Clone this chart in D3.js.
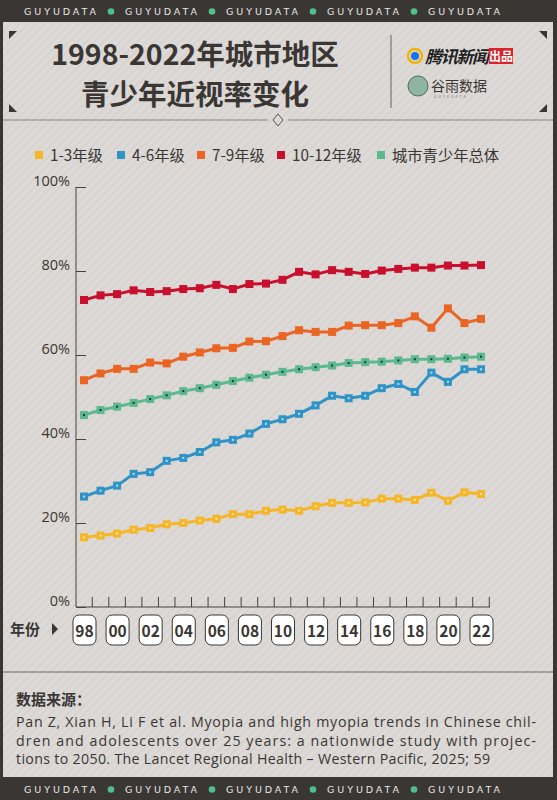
<!DOCTYPE html>
<html><head><meta charset="utf-8">
<script src="https://cdn.jsdelivr.net/npm/d3@7"></script>
<style>body{margin:0;background:#3a3634;} svg{display:block;font-family:"Noto Sans CJK SC","Noto Sans",sans-serif;}</style>
</head><body>
<svg id="chart" width="557" height="800"></svg>
<script>
const years = d3.range(1998, 2023)
const yearLabels = ["98","00","02","04","06","08","10","12","14","16","18","20","22"]
const yTicks = [0, 20, 40, 60, 80, 100]

const grade1to3 = [16.6,17.0,17.5,18.4,18.8,19.7,20.0,20.6,21.0,22.1,22.1,22.9,23.2,22.9,24.0,24.8,24.8,24.9,25.8,25.8,25.5,27.2,25.3,27.3,26.9]
const grade4to6 = [26.3,27.7,28.9,31.7,32.1,34.8,35.5,36.9,39.2,39.8,41.3,43.6,44.7,46.0,48.0,50.3,49.7,50.3,52.1,53.1,51.2,55.8,53.6,56.6,56.6]
const grade7to9 = [54.0,55.6,56.7,56.7,58.2,58.0,59.6,60.6,61.6,61.7,63.2,63.3,64.5,65.9,65.5,65.5,67.0,67.1,67.1,67.6,69.2,66.5,71.1,67.6,68.6]
const grade10to12 = [73.1,74.2,74.5,75.4,75.0,75.2,75.7,75.9,76.7,75.7,76.9,77.0,77.9,79.8,79.2,80.2,79.8,79.3,80.1,80.5,80.8,80.8,81.3,81.3,81.4]
const overall = [45.7,46.9,47.7,48.6,49.5,50.4,51.4,52.1,52.9,53.8,54.6,55.3,56.0,56.6,57.1,57.5,58.1,58.3,58.4,58.7,59.0,59.0,59.1,59.4,59.6]

const series = [
  {name: "1-3年级", values: grade1to3, color: "#f6b62a", dot: "#fbe6b0"},
  {name: "4-6年级", values: grade4to6, color: "#2f93c6", dot: "#b7dcef"},
  {name: "7-9年级", values: grade7to9, color: "#ea6423", dot: null},
  {name: "10-12年级", values: grade10to12, color: "#c8102e", dot: null},
  {name: "城市青少年总体", values: overall, color: "#5cb98f", dot: "#1d3a2e"}
]

let svg = d3.select("#chart")
let defs = svg.append("defs")
let pat = defs.append("pattern").attr("id", "stripes").attr("width", 6).attr("height", 6)
  .attr("patternUnits", "userSpaceOnUse").attr("patternTransform", "rotate(-45)")
pat.append("rect").attr("width", 6).attr("height", 6).attr("fill", "#dcd9d6")
pat.append("rect").attr("width", 6).attr("height", 1.2).attr("fill", "#d3d0cd")

svg.append("rect").attr("width", 557).attr("height", 800).attr("fill", "#3a3634")
svg.append("rect").attr("x", 3).attr("y", 22).attr("width", 550).attr("height", 755).attr("fill", "url(#stripes)")

// guyudata bands
function band(y){
  let g = svg.append("g")
  for (let i = 0; i < 5; i++){
    g.append("text").attr("x", 24 + i*101).attr("y", y)
      .attr("fill", "#e8e6e3").attr("font-size", 9.5).attr("textLength", 72).attr("lengthAdjust", "spacing")
      .attr("font-family", "DejaVu Sans").text("GUYUDATA")
    if (i < 4) g.append("circle").attr("cx", 111 + i*101).attr("cy", y-3.5).attr("r", 3.3).attr("fill", "#4fc08d")
  }
}
band(15); band(793)

// header corners
const corners = [[9,31,1,1],[547,31,-1,1],[9,112,1,-1],[547,112,-1,-1]]
corners.forEach(function(c){
  svg.append("path").attr("d", `M${c[0]},${c[1]}l${8*c[2]},0l${-8*c[2]},${8*c[3]}z`).attr("fill", "#3a3634")
})
svg.append("text").attr("x", 195).attr("y", 65).attr("text-anchor", "middle").attr("font-size", 28.5)
  .attr("font-weight", "bold").attr("fill", "#3a3634").text("1998-2022年城市地区")
svg.append("text").attr("x", 195).attr("y", 105).attr("text-anchor", "middle").attr("font-size", 28.5)
  .attr("font-weight", "bold").attr("fill", "#3a3634").text("青少年近视率变化")
svg.append("line").attr("x1", 391).attr("x2", 391).attr("y1", 35).attr("y2", 108).attr("stroke", "#777").attr("stroke-width", 1.2)
// logos
svg.append("circle").attr("cx", 415).attr("cy", 56).attr("r", 7).attr("fill", "none").attr("stroke", "#f4b400").attr("stroke-width", 2.5)
svg.append("circle").attr("cx", 415).attr("cy", 56).attr("r", 4).attr("fill", "#1a73e8")
svg.append("text").attr("x", 425).attr("y", 63).attr("font-size", 17).attr("font-weight", "bold").attr("font-style", "italic")
  .attr("fill", "#222").attr("textLength", 64).text("腾讯新闻")
svg.append("rect").attr("x", 489).attr("y", 48).attr("width", 24).attr("height", 16).attr("fill", "#d8232a")
svg.append("text").attr("x", 501).attr("y", 61).attr("text-anchor", "middle").attr("font-size", 12).attr("font-weight", "bold")
  .attr("fill", "#fff").text("出品")
svg.append("circle").attr("cx", 418).attr("cy", 86).attr("r", 10).attr("fill", "#8fb5a2").attr("stroke", "#4d6b5c")
svg.append("text").attr("x", 431).attr("y", 91).attr("font-size", 14).attr("fill", "#3a3634").text("谷雨数据")
svg.append("text").attr("x", 434).attr("y", 98).attr("font-size", 3.5).attr("letter-spacing", 2).attr("fill", "#777").text("GUYUDATA")

// separators
svg.append("line").attr("x1", 3).attr("x2", 268).attr("y1", 120).attr("y2", 120).attr("stroke", "#8a8683").attr("stroke-width", 1.2)
svg.append("line").attr("x1", 288).attr("x2", 553).attr("y1", 120).attr("y2", 120).attr("stroke", "#8a8683").attr("stroke-width", 1.2)
svg.append("path").attr("d", "M278,114l5,6l-5,6l-5,-6z").attr("fill", "none").attr("stroke", "#555")
svg.append("line").attr("x1", 3).attr("x2", 553).attr("y1", 672).attr("y2", 672).attr("stroke", "#6e6a67").attr("stroke-width", 1.2)

// legend
const legendX = [35, 117, 197, 277, 377]
series.forEach(function(s, i){
  svg.append("rect").attr("x", legendX[i]).attr("y", 151).attr("width", 8).attr("height", 8).attr("fill", s.color)
  svg.append("text").attr("x", legendX[i] + 15).attr("y", 161).attr("font-size", 15.3).attr("fill", "#3a3634").text(s.name)
})

// scales
let x = d3.scaleLinear().domain([1998, 2022]).range([84, 481])
let y = d3.scaleLinear().domain([0, 100]).range([607, 187])

let yAxis = svg.append("g").attr("transform", "translate(76,0)")
  .call(d3.axisLeft(y).tickValues(yTicks).tickSize(-10).tickPadding(6).tickFormat(d => d + "%"))
yAxis.select(".domain").attr("stroke", "#444").attr("d", "M0,187V607")
yAxis.selectAll("line").attr("stroke", "#444")
yAxis.selectAll("text").attr("font-size", 14.5).attr("fill", "#3a3634").attr("dy", "-0.1em")
  .attr("font-family", "Open Sans")

let step = x(1999) - x(1998)
let xt = d3.range(0, 25).map(i => x(1998) + step*(i + 0.5))
svg.append("line").attr("x1", 76).attr("x2", 490).attr("y1", 607).attr("y2", 607).attr("stroke", "#444")
svg.selectAll(".xt").data(xt).enter().append("line").attr("x1", d => d).attr("x2", d => d)
  .attr("y1", 597).attr("y2", 607).attr("stroke", "#444")

// year labels
svg.append("text").attr("x", 10).attr("y", 635).attr("font-size", 15).attr("font-weight", "bold").attr("fill", "#3a3634").text("年份")
svg.append("path").attr("d", "M52,623l6,6l-6,6z").attr("fill", "#3a3634")
yearLabels.forEach(function(l, i){
  let cx = x(1998 + i*2)
  svg.append("rect").attr("x", cx - 11).attr("y", 615).attr("width", 23).attr("height", 30).attr("rx", 6)
    .attr("fill", "#fff").attr("stroke", "#3a3634").attr("stroke-width", 1)
  svg.append("text").attr("x", cx + 0.5).attr("y", 637).attr("text-anchor", "middle").attr("font-size", 15.5)
    .attr("font-weight", "bold").attr("fill", "#3a3634").text(l)
})

// lines
let line = d3.line().x((d, i) => x(years[i])).y(d => y(d))
series.forEach(function(s){
  svg.append("path").datum(s.values).attr("d", line).attr("fill", "none").attr("stroke", s.color).attr("stroke-width", 3)
  svg.selectAll(null).data(s.values).enter().append("rect")
    .attr("x", (d, i) => x(years[i]) - 4).attr("y", d => y(d) - 4).attr("width", 8).attr("height", 8).attr("fill", s.color)
  if (s.dot) svg.selectAll(null).data(s.values).enter().append("rect")
    .attr("x", (d, i) => x(years[i]) - 1).attr("y", d => y(d) - 1).attr("width", 2).attr("height", 2).attr("fill", s.dot)
})

// source
svg.append("text").attr("x", 16).attr("y", 705).attr("font-size", 15).attr("font-weight", "bold").attr("fill", "#3a3634").text("数据来源：")
const src = ["Pan Z, Xian H, Li F et al. Myopia and high myopia trends in Chinese chil-",
  "dren and adolescents over 25 years: a nationwide study with projec-",
  "tions to 2050. The Lancet Regional Health – Western Pacific, 2025; 59"]
src.forEach(function(t, i){
  svg.append("text").attr("x", 16).attr("y", 727 + i*18.7).attr("font-size", 14.2).attr("fill", "#3a3634")
    .attr("font-family", "Open Sans").attr("textLength", i < 2 ? 520 : 474).attr("lengthAdjust", "spacing").text(t)
})
</script>
</body></html>
